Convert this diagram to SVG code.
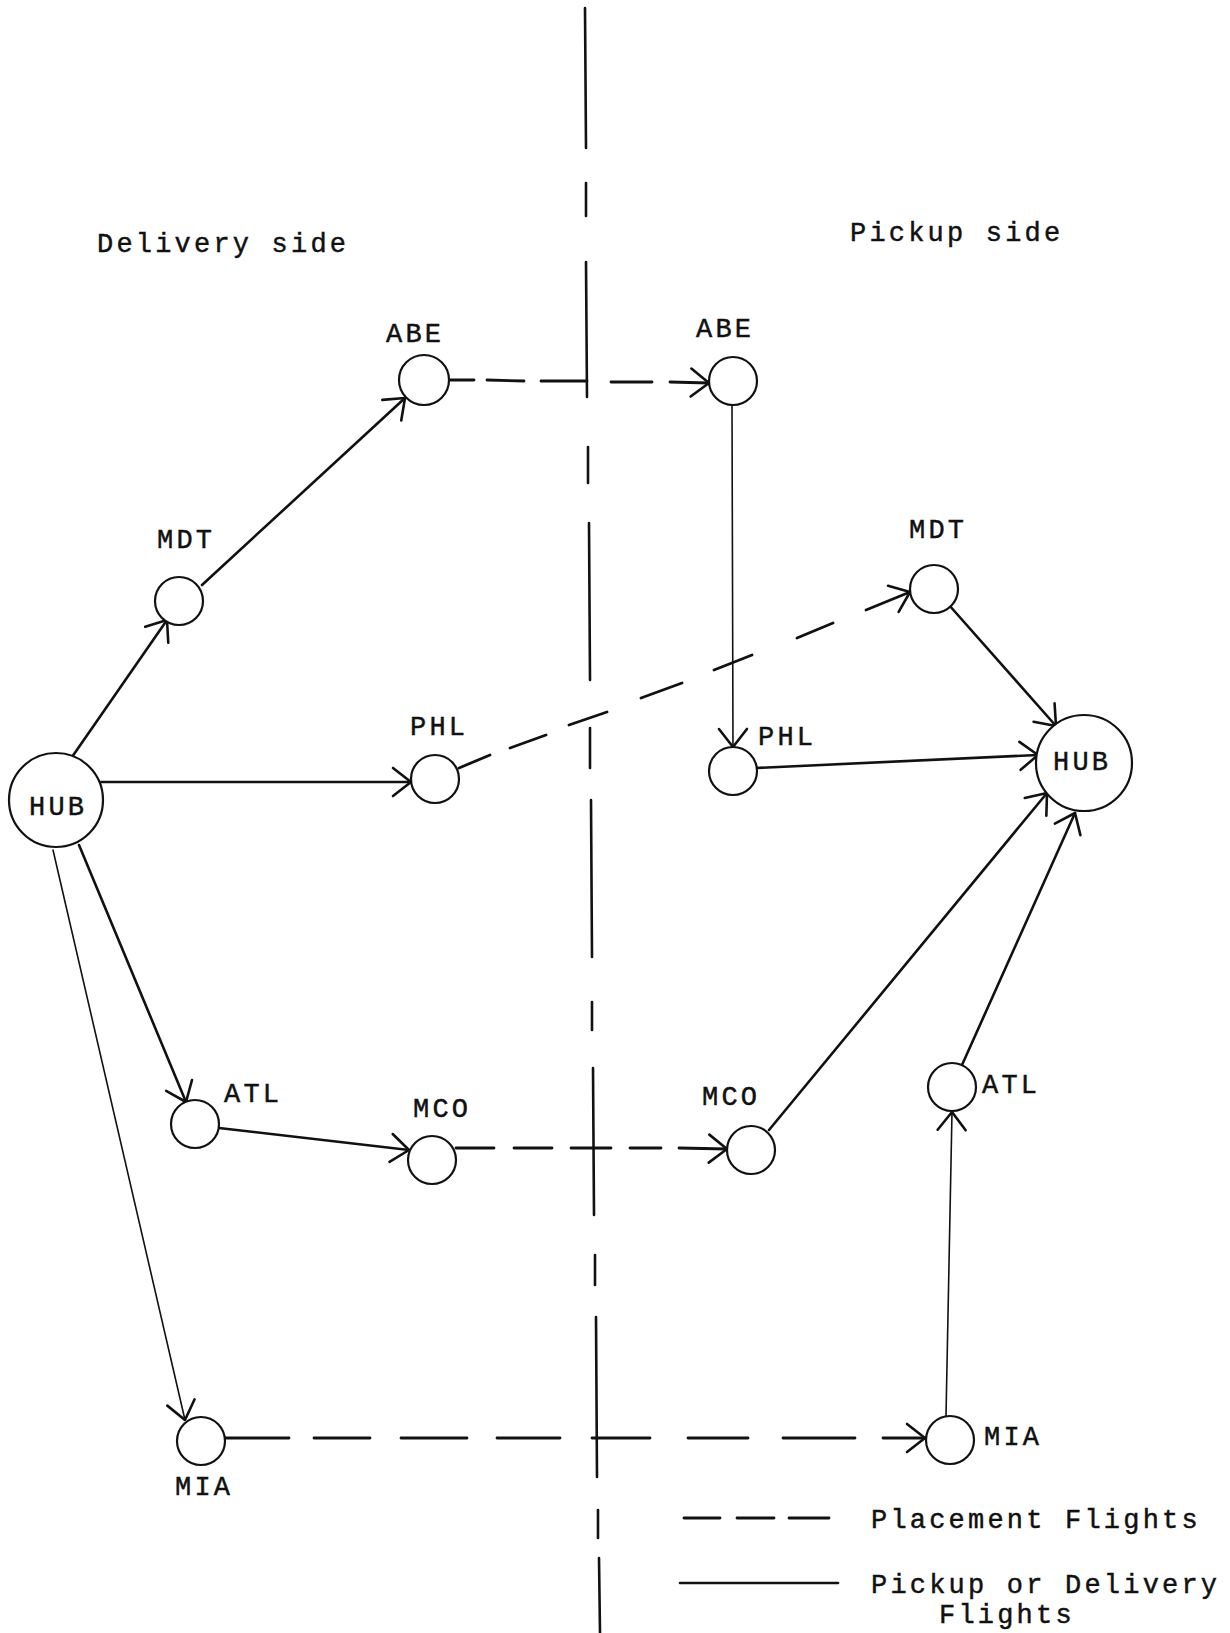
<svg xmlns="http://www.w3.org/2000/svg" width="1230" height="1633" viewBox="0 0 1230 1633">
<style>
text{font-family:"Liberation Mono","Courier New",monospace;font-size:27px;letter-spacing:3.2px;fill:#111;stroke:#111;stroke-width:0.45}
.node{fill:#fff;stroke:#111;stroke-width:2.2}
.c{fill:none;stroke:#111;stroke-width:2.6;stroke-linecap:round}
.thin{stroke-width:1.6}
.d{fill:none;stroke:#111;stroke-width:2.8;stroke-linecap:round}
.div{stroke:#111;stroke-width:2.6;stroke-linecap:round}
</style>
<defs>
<marker id="arr" markerUnits="userSpaceOnUse" markerWidth="40" markerHeight="40" refX="0" refY="0" orient="auto" overflow="visible">
<path d="M-18,-14 L0,0 L-18,14" fill="none" stroke="#111" stroke-width="2.6" stroke-linecap="round" stroke-linejoin="round"/>
</marker>
</defs>
<rect width="1230" height="1633" fill="#fff"/>

<g id="divider">
<line class="div" x1="585" y1="8" x2="586" y2="148"/>
<line class="div" x1="586" y1="183" x2="586" y2="216"/>
<line class="div" x1="586" y1="262" x2="587" y2="397"/>
<line class="div" x1="588" y1="447" x2="588" y2="483"/>
<line class="div" x1="589" y1="523" x2="590" y2="680"/>
<line class="div" x1="590" y1="728" x2="590" y2="768"/>
<line class="div" x1="591" y1="800" x2="592" y2="957"/>
<line class="div" x1="592" y1="1002" x2="592" y2="1030"/>
<line class="div" x1="593" y1="1068" x2="594" y2="1215"/>
<line class="div" x1="595" y1="1255" x2="595" y2="1285"/>
<line class="div" x1="596" y1="1317" x2="597" y2="1477"/>
<line class="div" x1="598" y1="1510" x2="598" y2="1538"/>
<line class="div" x1="599" y1="1558" x2="600" y2="1633"/>
</g>

<g id="titles">
<text x="97" y="252">Delivery side</text>
<text x="850" y="241">Pickup side</text>
</g>

<g id="connectors">
<line class="c" x1="72" y1="757" x2="167" y2="620" marker-end="url(#arr)"/>
<line class="c" x1="202" y1="585" x2="405" y2="398" marker-end="url(#arr)"/>
<line class="c" x1="101" y1="782" x2="411" y2="782" marker-end="url(#arr)"/>
<line class="c" x1="79" y1="845" x2="186" y2="1102" marker-end="url(#arr)"/>
<line class="c thin" x1="53" y1="850" x2="185" y2="1420" marker-end="url(#arr)"/>
<line class="c" x1="219" y1="1128" x2="409" y2="1150" marker-end="url(#arr)"/>
<line class="c thin" x1="732" y1="405" x2="733" y2="747" marker-end="url(#arr)"/>
<line class="c" x1="756" y1="768" x2="1038" y2="755" marker-end="url(#arr)"/>
<line class="c" x1="949" y1="605" x2="1056" y2="726" marker-end="url(#arr)"/>
<line class="c" x1="769" y1="1130" x2="1047" y2="793" marker-end="url(#arr)"/>
<line class="c" x1="962" y1="1065" x2="1075" y2="813" marker-end="url(#arr)"/>
<line class="c thin" x1="946" y1="1416" x2="952" y2="1112" marker-end="url(#arr)"/>
<path class="d" d="M449,380 L474,380 M487,380 L524,381 M541,381 L587,381 M611,382 L652,382 M670,382 L709,383" marker-end="url(#arr)"/>
<path class="d" d="M459,768 L490,755 M510,748 L546,735 M569,725 L607,712 M641,698 L682,683 M714,670 L752,655 M797,638 L833,623 M866,610 L910,592" marker-end="url(#arr)"/>
<path class="d" d="M456,1148 L494,1148 M514,1148 L552,1148 M571,1148 L611,1148 M630,1148 L661,1148 M679,1148 L727,1149" marker-end="url(#arr)"/>
<path class="d" d="M225,1438 L289,1438 M314,1438 L370,1438 M401,1438 L467,1438 M497,1438 L560,1438 M592,1438 L650,1438 M688,1438 L748,1438 M783,1438 L855,1438 M883,1438 L925,1438" marker-end="url(#arr)"/>
</g>

<g id="hub-l"><circle class="node" cx="56" cy="800" r="47"/><text x="29" y="815">HUB</text></g>
<g id="mdt-l"><circle class="node" cx="179" cy="601" r="24"/><text x="157" y="548">MDT</text></g>
<g id="abe-l"><circle class="node" cx="424" cy="380" r="25"/><text x="386" y="342">ABE</text></g>
<g id="phl-l"><circle class="node" cx="435" cy="779" r="24"/><text x="410" y="735">PHL</text></g>
<g id="atl-l"><circle class="node" cx="195" cy="1124" r="24"/><text x="224" y="1102">ATL</text></g>
<g id="mco-l"><circle class="node" cx="432" cy="1160" r="24"/><text x="413" y="1117">MCO</text></g>
<g id="mia-l"><circle class="node" cx="201" cy="1441" r="24"/><text x="175" y="1495">MIA</text></g>

<g id="abe-r"><circle class="node" cx="733" cy="381" r="24"/><text x="696" y="337">ABE</text></g>
<g id="mdt-r"><circle class="node" cx="934" cy="589" r="24"/><text x="909" y="538">MDT</text></g>
<g id="phl-r"><circle class="node" cx="733" cy="771" r="24"/><text x="758" y="745">PHL</text></g>
<g id="hub-r"><circle class="node" cx="1084" cy="763" r="48"/><text x="1053" y="770">HUB</text></g>
<g id="mco-r"><circle class="node" cx="751" cy="1150" r="24"/><text x="702" y="1105">MCO</text></g>
<g id="atl-r"><circle class="node" cx="952" cy="1087" r="24"/><text x="982" y="1093">ATL</text></g>
<g id="mia-r"><circle class="node" cx="950" cy="1440" r="24"/><text x="984" y="1445">MIA</text></g>

<g id="legend">
<path class="d" d="M684,1518 L720,1518 M737,1518 L774,1518 M789,1518 L829,1518"/>
<line class="c" x1="680" y1="1583" x2="838" y2="1583"/>
<text x="871" y="1528">Placement Flights</text>
<text x="871" y="1593">Pickup or Delivery</text>
<text x="939" y="1623">Flights</text>
</g>
</svg>
